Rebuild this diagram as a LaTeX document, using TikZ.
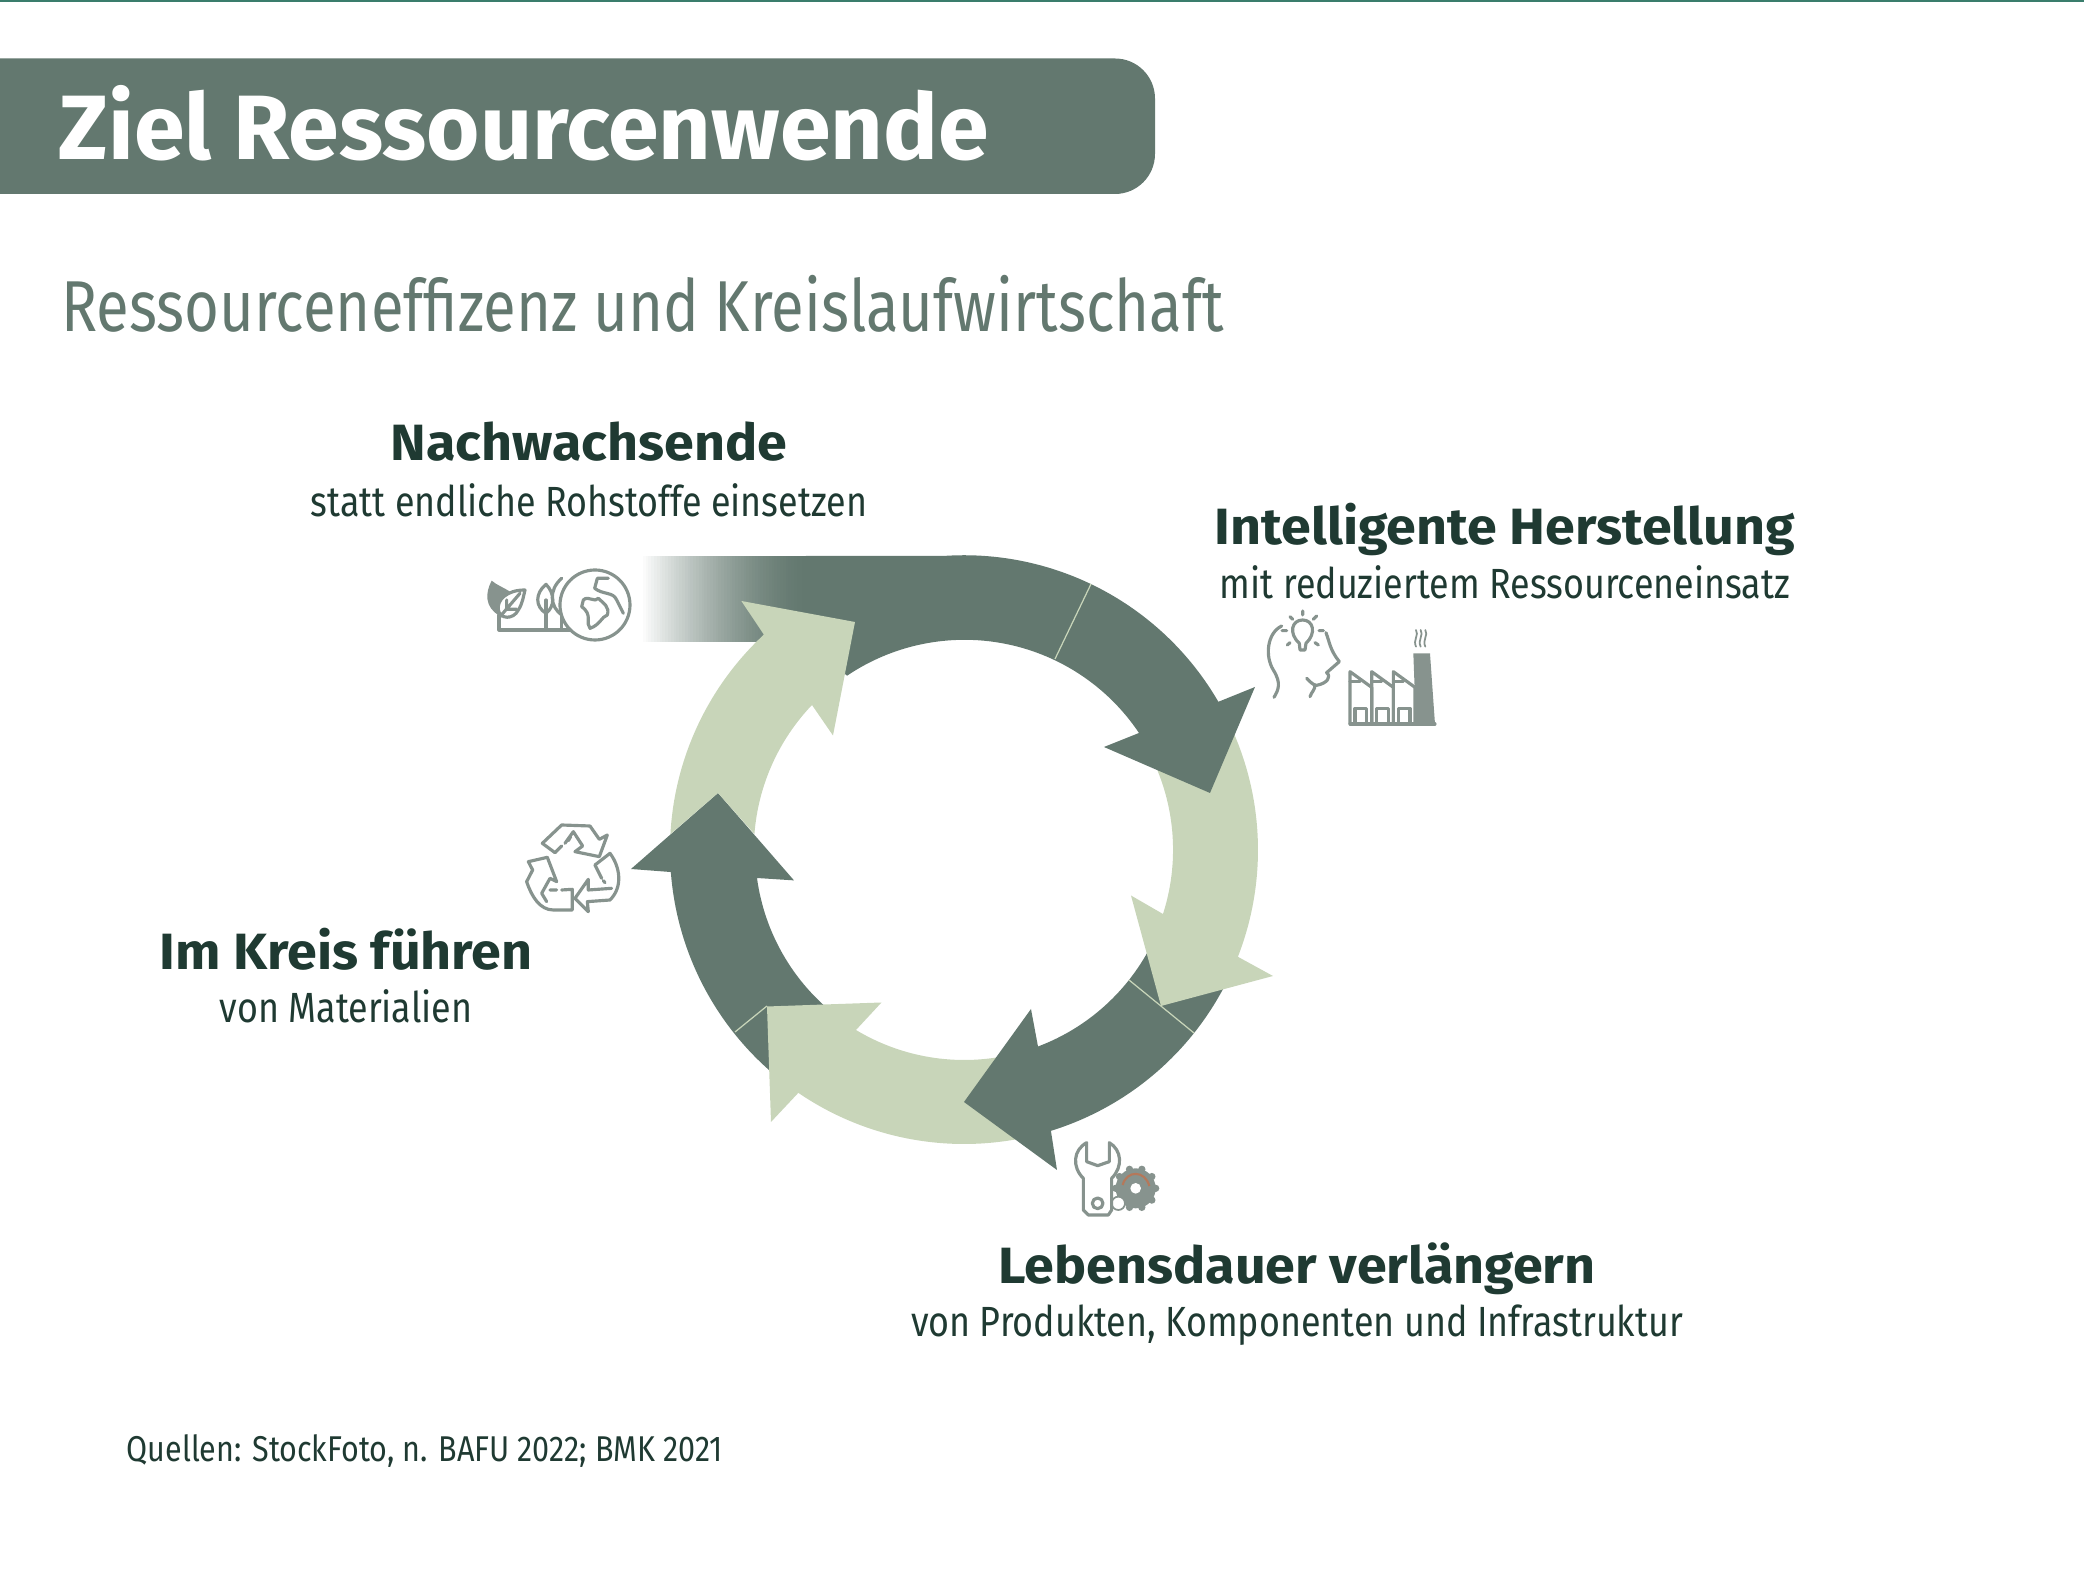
\documentclass[tikz,border=0pt]{standalone}
\usepackage{fontspec}
\setmainfont{Fira Sans}
\newfontfamily\condfont[FakeStretch=0.85]{Fira Sans}
\newfontfamily\subtitlefont[FakeStretch=0.83]{Fira Sans}
\newfontfamily\widefont[FakeStretch=1.055]{Fira Sans}
\usepackage{xcolor}
\usetikzlibrary{arrows.meta, positioning, shapes.geometric}
\definecolor{ringdark}{HTML}{63786F}
\definecolor{ringlight}{HTML}{C8D5B9}
\definecolor{labeldark}{HTML}{1F3A32}
\definecolor{icongray}{HTML}{87938E}
\definecolor{topline}{HTML}{3A7D6C}
\definecolor{gearorange}{HTML}{B5785A}
\tikzset{
  headlabel/.style={anchor=base, text=labeldark, inner sep=0pt, font=\widefont\fontsize{14.5}{17}\selectfont\bfseries},
  sublabel/.style={anchor=base, text=labeldark, inner sep=0pt, font=\condfont\fontsize{12}{14}\selectfont},
  seam/.style={draw=ringlight, line width=0.35pt},
  iconline/.style={draw=icongray, line width=0.9pt, line cap=round, line join=round},
  iconfill/.style={fill=icongray},
}
\begin{document}
\begin{tikzpicture}[x=0.01cm, y=0.01cm]
  \useasboundingbox (-964,-729) rectangle (1120,850);

  % --- Header ---
  \draw[topline, line width=0.5pt] (-964,849) -- (1120,849);
  \fill[ringdark] (-964,791.5) -- (151,791.5) arc[start angle=90, end angle=0, radius=40]
    -- (191,696) arc[start angle=0, end angle=-90, radius=40] -- (-964,656) -- cycle;
  \node[anchor=base west, text=white, inner sep=0pt, font=\fontsize{26}{30}\selectfont\bfseries] (title) at (-906,690.5) {Ziel Ressourcenwende};
  \node[anchor=base west, text=ringdark, inner sep=0pt, font=\subtitlefont\fontsize{20.5}{24}\selectfont] (subtitle) at (-903,518) {Ressourceneffizenz und Kreislaufwirtschaft};

  % --- Ring arrows ---
  % Lower left
  \fill[ringdark] (-128:294) arc[start angle=-128, end angle=-175.7, radius=294]
    -- (-333,-19) -- (-246,57) -- (-170,-30.4) -- (-207,-28)
    arc[start angle=-172.3, end angle=-128, radius=210] -- cycle;

  % Bottom
  \fill[ringlight] (-78:294) arc[start angle=-78, end angle=-124.3, radius=294]
    -- (-193,-272) -- (-197,-156.5) -- (-82.5,-152.5) -- (-108,-180)
    arc[start angle=-121, end angle=-78, radius=210] -- cycle;

  % Lower right
  \fill[ringdark] (-26:294) arc[start angle=-26, end angle=-72.8, radius=294]
    -- (93,-320) -- (0,-252) -- (67,-159) -- (74,-196.5)
    arc[start angle=-69.4, end angle=-26, radius=210] -- cycle;

  % Right
  \fill[ringlight] (25:294) arc[start angle=25, end angle=-21.3, radius=294]
    -- (309,-126) -- (197,-156) -- (167,-45.5) -- (199,-64)
    arc[start angle=-17.8, end angle=25, radius=210] -- cycle;

  % Top, fading in from the left
  \foreach \i in {0,...,59} {
    \pgfmathsetmacro{\pct}{100*(1-(1-\i/59)^1.6)}
    \fill[ringdark!\pct!white] (-324+\i*2.8,294) rectangle (-140,208);
  }
  \fill[ringdark] (-158,294) -- (-21,294) arc[start angle=94.1, end angle=30.1, radius=294]
    -- (291,163) -- (246,57) -- (140,103) -- (175,117)
    arc[start angle=33.8, end angle=124, radius=210] -- (-158,208) -- cycle;

  % Left, its tail notched round the lower left head
  \fill[ringlight] (176.9:294) arc[start angle=176.9, end angle=132.9, radius=294]
    -- (-222.6,249) -- (-109,228) -- (-131,114.5) -- (-152,145)
    arc[start angle=136.3, end angle=175.6, radius=210] -- (-246,57) -- cycle;

  % --- Seams ---
  \draw[seam] (127,266) -- (91,191);
  \draw[seam] (165,-130) -- (230,-183);
  \draw[seam] (-229,-182) -- (-197,-156);

  % --- Labels ---
  \node[headlabel] (nachwachsende) at (-375,389) {Nachwachsende};
  \node[sublabel] (rohstoffe) at (-375,333) {statt endliche Rohstoffe einsetzen};
  \node[headlabel] (herstellung) at (541,305) {Intelligente Herstellung};
  \node[sublabel] (einsatz) at (541,251) {mit reduziertem Ressourceneinsatz};
  \node[headlabel] (kreis) at (-618,-120) {Im Kreis führen};
  \node[sublabel] (materialien) at (-618,-173) {von Materialien};
  \node[headlabel] (lebensdauer) at (333,-434) {Lebensdauer verlängern};
  \node[sublabel] (produkte) at (333,-487) {von Produkten, Komponenten und Infrastruktur};
  \node[anchor=base west, text=labeldark, inner sep=0pt, font=\condfont\fontsize{10.2}{12}\selectfont] (quellen) at (-838,-612) {Quellen: StockFoto, n. BAFU 2022; BMK 2021};

  % --- Icon: leaf, trees, globe ---
  \begin{scope}[shift={(-494,300)}, x=0.01cm/3, y=-0.01cm/3]
    \fill[iconfill] (65,92) .. controls (45,130) and (45,170) .. (85,195)
      -- (120,125) .. controls (100,112) and (80,105) .. (65,92) -- cycle;
    \draw[iconline, fill=white] (165,120) .. controls (110,120) and (80,150) .. (85,180)
      .. controls (90,208) and (130,210) .. (145,180) .. controls (158,160) and (160,140) .. (165,120) -- cycle;
    \draw[iconline] (90,200) -- (150,130) (110,178) -- (110,150) (110,178) -- (140,178);
    \draw[iconline] (87,195) -- (87,240) -- (300,240);
    \draw[iconline] (228,103) .. controls (195,130) and (195,170) .. (228,190)
      .. controls (255,170) and (255,130) .. (228,103) -- cycle;
    \draw[iconline] (228,150) -- (228,235);
    \draw[iconline] (275,85) .. controls (235,120) and (240,170) .. (275,195);
    \draw[iconline] (275,190) -- (275,240);
    \draw[iconline, fill=white] (375,165) circle (105);
    \draw[iconline] (415,85) -- (382,85) -- (374,115) .. controls (400,135) and (430,125) .. (440,150) -- (460,190);
    \draw[iconline] (340,150) .. controls (355,135) and (375,160) .. (385,145)
      .. controls (400,160) and (420,170) .. (412,195) .. controls (395,200) and (390,225) .. (360,235)
      .. controls (345,220) and (370,195) .. (335,170) -- cycle;
  \end{scope}

  % --- Icon: head with bulb, factory ---
  \begin{scope}[shift={(286,250)}, x=0.01cm/3, y=-0.01cm/3]
    \draw[iconline] (95,78) .. controls (50,100) and (45,170) .. (70,210) .. controls (95,250) and (85,270) .. (72,292);
    \draw[iconline] (228,98) .. controls (240,130) and (240,150) .. (268,185) -- (245,205) -- (230,218)
      .. controls (245,230) and (232,250) .. (200,256) .. controls (190,256) and (180,245) .. (170,235);
    \draw[iconline] (195,255) .. controls (195,270) and (185,275) .. (180,290);
    \draw[iconline] (148,130) .. controls (115,100) and (125,60) .. (158,60) .. controls (190,60) and (200,100) .. (168,130)
      -- (165,150) -- (150,150) -- cycle;
    \draw[iconline] (158,33) -- (158,45) (120,50) -- (128,58) (200,48) -- (190,58) (96,92) -- (110,92)
      (207,92) -- (220,92) (112,135) -- (120,128) (205,135) -- (195,128);
    \fill[iconfill] (490,160) -- (540,160) -- (555,372) -- (498,372) -- cycle;
    \foreach \dx in {0,65,130} {
      \draw[iconline] (300+\dx,372) -- (300+\dx,215) -- (365+\dx,262) -- (365+\dx,372);
      \draw[iconline] (315+\dx,372) -- (315+\dx,325) -- (350+\dx,325) -- (350+\dx,372);
      \draw[iconline] (300+\dx,245) -- (330+\dx,245);
    }
    \draw[iconline] (300,372) -- (555,372);
    \foreach \dx in {0,14,28} {
      \draw[iconline, line width=0.5pt] (498+\dx,90) .. controls (508+\dx,105) and (488+\dx,120) .. (498+\dx,140);
    }
  \end{scope}

  % --- Icon: recycling ---
  \begin{scope}[shift={(-454,40)}, x=0.01cm/3, y=-0.01cm/3]
    \draw[iconline] (135,128) -- (97,100) -- (155,45) -- (240,48) -- (268,88) -- (292,75) -- (268,140)
      -- (195,125) -- (218,108) -- (190,65) -- (165,100);
    \draw[iconline] (135,128) -- (155,108) (175,92) -- (182,80);
    \draw[iconline] (255,165) -- (300,130) .. controls (330,170) and (340,230) .. (300,270) -- (232,275)
      -- (235,305) -- (195,265) -- (235,208) -- (235,240) -- (305,235);
    \draw[iconline] (255,165) -- (275,205) (280,212) -- (285,218);
    \draw[iconline] (112,142) -- (55,155) -- (68,180) -- (50,215) .. controls (65,260) and (90,300) .. (130,300)
      -- (187,300) -- (187,238) -- (155,240);
    \draw[iconline] (140,240) -- (120,240) (112,142) -- (140,215) -- (120,205) -- (95,250) -- (110,275);
  \end{scope}

  % --- Icon: wrench and gear ---
  \begin{scope}[shift={(86,-270)}, x=0.01cm/3, y=-0.01cm/3]
    \foreach \a in {0,36,...,324}
      \fill[iconfill] (257,205) ++(\a:60) circle (11);
    \fill[iconfill] (257,205) circle (60);
    \fill[white] (257,205) circle (16);
    \draw[gearorange, line width=0.6pt] (218,195) .. controls (230,150) and (285,150) .. (298,198);
    \draw[iconline, line width=0.5pt, fill=white] (205,250) circle (20);
    \draw[iconline, fill=white] (110,68) -- (110,125) -- (143,137) -- (178,125) -- (178,68)
      .. controls (215,90) and (220,140) .. (185,175) -- (185,270) -- (175,285) -- (115,285) -- (100,270)
      -- (100,175) .. controls (65,140) and (70,90) .. (110,68) -- cycle;
    \draw[iconline] (143,250) circle (16);
  \end{scope}
\end{tikzpicture}
\end{document}
